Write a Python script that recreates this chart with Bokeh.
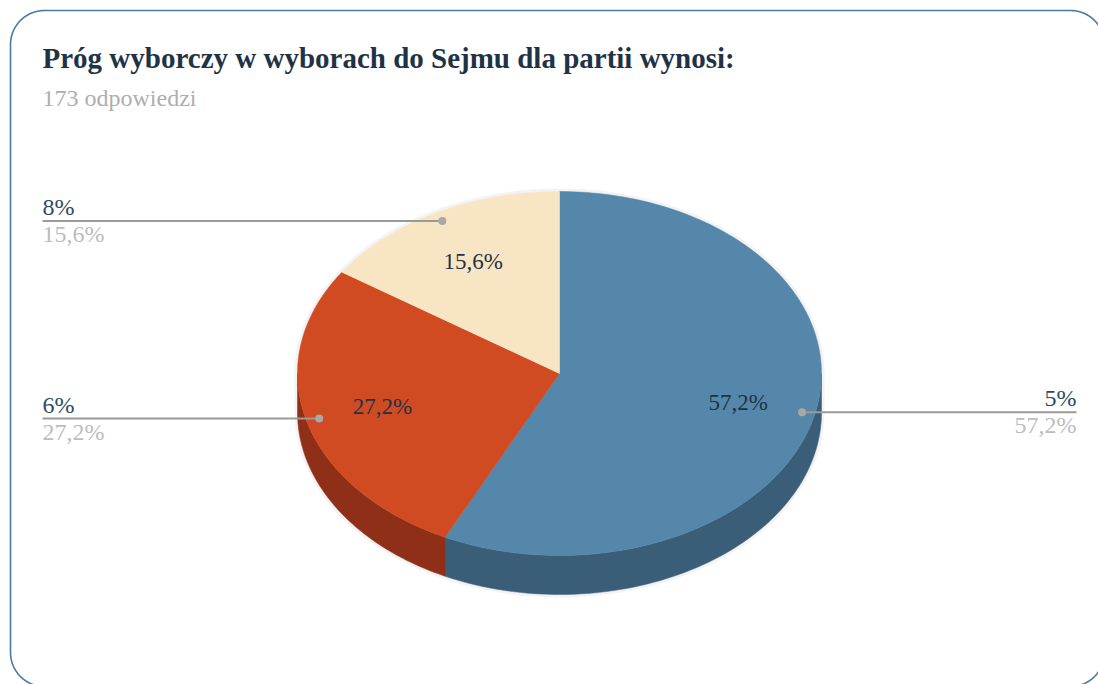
import numpy as np
from bokeh.plotting import figure
from bokeh.models import Range1d
from bokeh.core.properties import value
from bokeh.embed import file_html
from bokeh.resources import INLINE

# ---- data ----
categories = ["5%", "6%", "8%"]
shares = [57.2, 27.2, 15.6]
share_labels = ["57,2%", "27,2%", "15,6%"]
top_colors = ["#5587AA", "#D04A22", "#F8E5C4"]
side_colors = ["#3B5E78", "#8F2F18", "#C9B48F"]
title_text = "Próg wyborczy w wyborach do Sejmu dla partii wynosi:"
subtitle_text = "173 odpowiedzi"

FONT = "Liberation Serif"
W, H = 1098, 684

p = figure(width=W, height=H, x_range=Range1d(0, W), y_range=Range1d(H, 0),
           output_backend="svg", toolbar_location=None,
           x_axis_type=None, y_axis_type=None,
           min_border=0, min_border_left=0, min_border_right=0,
           min_border_top=0, min_border_bottom=0)
p.grid.visible = False
p.outline_line_color = None
p.background_fill_color = "white"
p.border_fill_color = "white"

# ---- rounded frame ----
def rounded_rect(l, t, r, b, rad, n=24):
    xs, ys = [], []
    corners = [(r - rad, t + rad, 90, 0), (r - rad, b - rad, 0, -90),
               (l + rad, b - rad, -90, -180), (l + rad, t + rad, 180, 90)]
    for cxx, cyy, a0, a1 in corners:
        a = np.radians(np.linspace(a0, a1, n))
        xs += list(cxx + rad * np.cos(a))
        ys += list(cyy - rad * np.sin(a))
    xs.append(xs[0]); ys.append(ys[0])
    return xs, ys

fx, fy = rounded_rect(10, 10, 1104, 686, 34)
p.line(fx, fy, line_color="#4B7AA0", line_width=1.6)

# ---- pie geometry ----
cx, cy, rx, ry, depth = 559, 373, 262, 182, 39

def ell(theta_deg, dy=0.0, r=1.0):
    t = np.radians(theta_deg)
    return cx + r * rx * np.cos(t), cy - r * ry * np.sin(t) + dy

total = float(sum(shares))
starts, ends = [], []
a = 90.0
for s in shares:
    starts.append(a)
    a -= 360.0 * s / total
    ends.append(a)

# halo silhouette
t_up = np.linspace(0, 180, 100)
t_dn = np.linspace(180, 360, 100)
hx = list(ell(t_up)[0]) + list(ell(t_dn, depth)[0])
hy = list(ell(t_up)[1]) + list(ell(t_dn, depth)[1])
p.patch(hx, hy, fill_color="#F5F5F5", line_color="#F3F3F3", line_width=6)

# side walls (front half only: theta in [-180, 0])
side_xs, side_ys, side_cols = [], [], []
for a0, a1, col in zip(starts, ends, side_colors):
    hi = min(a0, 0.0)
    lo = max(a1, -180.0)
    if lo < hi:
        t = np.linspace(hi, lo, 80)
        tx, ty = ell(t)
        bx, by = ell(t[::-1], depth)
        side_xs.append(list(tx) + list(bx))
        side_ys.append(list(ty) + list(by))
        side_cols.append(col)
p.patches(side_xs, side_ys, fill_color=side_cols, line_color=side_cols, line_width=0.5)

# top faces
top_xs, top_ys = [], []
for a0, a1 in zip(starts, ends):
    t = np.linspace(a0, a1, 160)
    tx, ty = ell(t)
    top_xs.append([cx] + list(tx) + [cx])
    top_ys.append([cy] + list(ty) + [cy])
p.patches(top_xs, top_ys, fill_color=top_colors, line_color=top_colors, line_width=0.5)

# inner labels
mids = [(a0 + a1) / 2 for a0, a1 in zip(starts, ends)]
lx = [ell(m, r=0.7)[0] for m in mids]
ly = [ell(m, r=0.7)[1] for m in mids]
p.text(lx, ly, text=share_labels, text_align="center", text_baseline="middle",
       text_font=value(FONT), text_font_size="23px", text_color="#1F3347")

# leader lines, dots and outer labels
for m, cat, lab in zip(mids, categories, share_labels):
    dx, dy = ell(m, r=0.95)
    right = np.cos(np.radians(m)) > 0
    xend = 1076 if right else 42
    p.line([dx, xend], [dy, dy], line_color="#9A9A9A", line_width=2)
    p.scatter([dx], [dy], size=8, fill_color="#A8A8A8", line_color=None)
    align = "right" if right else "left"
    p.text([xend], [dy - 14], text=[cat], text_align=align, text_baseline="middle",
           text_font=value(FONT), text_font_size="24px", text_color="#2F4B61")
    p.text([xend], [dy + 13], text=[lab], text_align=align, text_baseline="middle",
           text_font=value(FONT), text_font_size="24px", text_color="#BDBDBD")

# title & subtitle
p.text([42], [57], text=[title_text], text_align="left", text_baseline="middle",
       text_font=value(FONT), text_font_size="29px", text_font_style="bold",
       text_color="#1F3347")
p.text([42], [97], text=[subtitle_text], text_align="left", text_baseline="middle",
       text_font=value(FONT), text_font_size="24px", text_color="#AEAEAE")

open("out.html", "w").write(file_html(p, INLINE))
